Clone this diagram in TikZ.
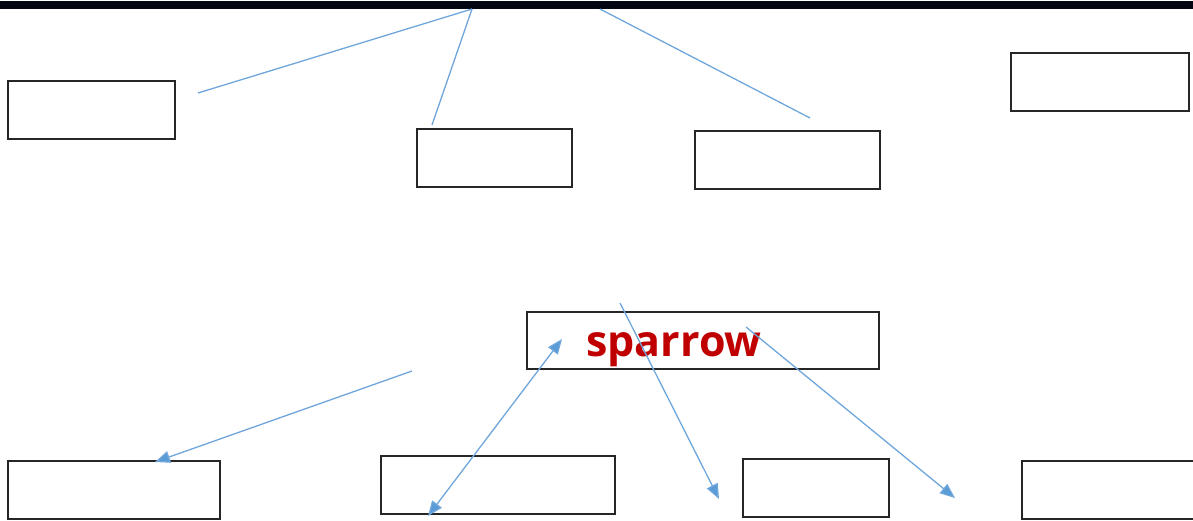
\documentclass[tikz,border=0pt]{standalone}
\usepackage{fontspec}
\setmainfont{Open Sans}
\usetikzlibrary{arrows.meta}
\definecolor{lineblue}{HTML}{6FA6DB}
\definecolor{tipblue}{HTML}{5B9BD5}
\definecolor{sparrowred}{HTML}{C00000}
\definecolor{barcol}{HTML}{020512}
\begin{document}
\begin{tikzpicture}[x=1pt,y=-1pt,
  emptybox/.style={draw=black!85,line width=1.1pt},
  link/.style={draw=lineblue,line width=1.3pt},
  arrowlink/.style={link,-{Triangle[length=15pt,width=12pt,fill=tipblue]}},
  biarrowlink/.style={link,{Triangle[length=15pt,width=12pt,fill=tipblue]}-{Triangle[length=15pt,width=12pt,fill=tipblue]}}]
\useasboundingbox (0,0) rectangle (1193,521);
\fill[barcol] (0,1) rectangle (1193,9);
% boxes
\draw[emptybox] (8,81) rectangle (175,139) coordinate (boxA);
\draw[emptybox] (417,129) rectangle (572,187) coordinate (boxB);
\draw[emptybox] (695,131) rectangle (880,189) coordinate (boxC);
\draw[emptybox] (1011,53) rectangle (1189,111) coordinate (boxD);
\draw[emptybox] (527,312) rectangle (879,369);
\node[text=sparrowred,font=\bfseries\fontsize{43}{43}\selectfont,inner sep=0pt,anchor=base] (sparrow) at (674,356) {sparrow};
\draw[emptybox] (8,461) rectangle (220,519) coordinate (boxE);
\draw[emptybox] (381,456) rectangle (615,514) coordinate (boxF);
\draw[emptybox] (743,459) rectangle (889,517) coordinate (boxG);
\draw[emptybox] (1022,461) rectangle (1200,519) coordinate (boxH);
% free end coordinates
\coordinate (t1) at (472,9);
\coordinate (t2) at (600,9);
\coordinate (a1) at (198,93);
\coordinate (b1) at (432,125);
\coordinate (c1) at (810,118);
\coordinate (s1) at (412,371);
\coordinate (e1) at (155,462);
\coordinate (s2) at (562,339);
\coordinate (f1) at (428,516);
\coordinate (s3) at (620,303);
\coordinate (g1) at (719,499);
\coordinate (s4) at (746,327);
\coordinate (h1) at (955,498);
% connectors
\draw[link] (t1) -- (a1);
\draw[link] (t1) -- (b1);
\draw[link] (t2) -- (c1);
\draw[arrowlink] (s1) -- (e1);
\draw[biarrowlink] (f1) -- (s2);
\draw[arrowlink] (s3) -- (g1);
\draw[arrowlink] (s4) -- (h1);
\end{tikzpicture}
\end{document}
